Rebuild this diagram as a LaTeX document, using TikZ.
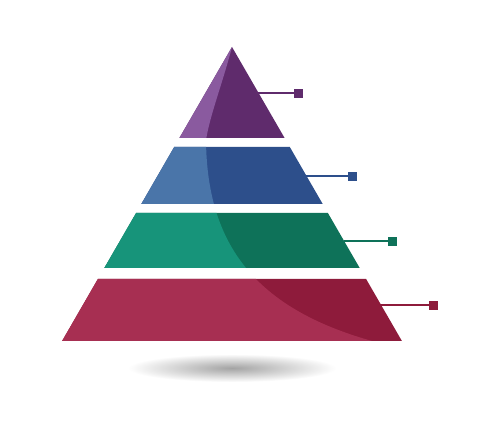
\documentclass[tikz,border=0pt]{standalone}
\usetikzlibrary{positioning}

\definecolor{plumdark}{HTML}{5F2B6C}
\definecolor{plumlight}{HTML}{8A5A9F}
\definecolor{bluedark}{HTML}{2D4F8B}
\definecolor{bluelight}{HTML}{4A75A9}
\definecolor{greendark}{HTML}{0E7259}
\definecolor{greenlight}{HTML}{17947A}
\definecolor{reddark}{HTML}{8E1B3B}
\definecolor{redlight}{HTML}{A72F52}

% light part of every layer
\newcommand{\sheen}{(232,47) .. controls (222,85) and (210,115) .. (206,140)
  .. controls (207,250) and (260,320) .. (410,350) -- (0,350) -- (0,47) -- cycle}

\tikzset{
  tip/.style={draw=#1, fill=#1, rectangle, inner sep=0pt, minimum size=4.5pt},
  lead/.style={draw=#1, line width=1.1pt},
}

\begin{document}
\begin{tikzpicture}[x=0.02cm, y=-0.02cm]
\fill[white] (0,0) rectangle (500,428);
\useasboundingbox (0,0) rectangle (500,428);

% shadow
\shade[inner color=black!36, outer color=white] (232,368) ellipse (104 and 14);

% top
\fill[plumdark] (232,47) -- (284.6,138) -- (179.4,138) -- cycle;
\begin{scope}
  \clip (232,47) -- (284.6,138) -- (179.4,138) -- cycle;
  \fill[plumlight] \sheen;
\end{scope}

% second
\fill[bluedark] (174.2,147) -- (289.8,147) -- (322.7,204) -- (141.3,204) -- cycle;
\begin{scope}
  \clip (174.2,147) -- (289.8,147) -- (322.7,204) -- (141.3,204) -- cycle;
  \fill[bluelight] \sheen;
\end{scope}

% third
\fill[greendark] (136.1,213) -- (327.9,213) -- (359.7,268) -- (104.3,268) -- cycle;
\begin{scope}
  \clip (136.1,213) -- (327.9,213) -- (359.7,268) -- (104.3,268) -- cycle;
  \fill[greenlight] \sheen;
\end{scope}

% bottom
\fill[reddark] (97.9,279) -- (366.1,279) -- (401.9,341) -- (62.1,341) -- cycle;
\begin{scope}
  \clip (97.9,279) -- (366.1,279) -- (401.9,341) -- (62.1,341) -- cycle;
  \fill[redlight] \sheen;
\end{scope}

% leads
\coordinate (edgeA) at (258,93);
\coordinate (edgeB) at (306,176);
\coordinate (edgeC) at (344,241);
\coordinate (edgeD) at (380,305);
\node[tip=plumdark] (tipA) at (298,93) {};
\node[tip=bluedark] (tipB) at (352,176) {};
\node[tip=greendark] (tipC) at (392,241) {};
\node[tip=reddark] (tipD) at (433,305) {};
\draw[lead=plumdark] (edgeA) -- (tipA);
\draw[lead=bluedark] (edgeB) -- (tipB);
\draw[lead=greendark] (edgeC) -- (tipC);
\draw[lead=reddark] (edgeD) -- (tipD);
\end{tikzpicture}
\end{document}
